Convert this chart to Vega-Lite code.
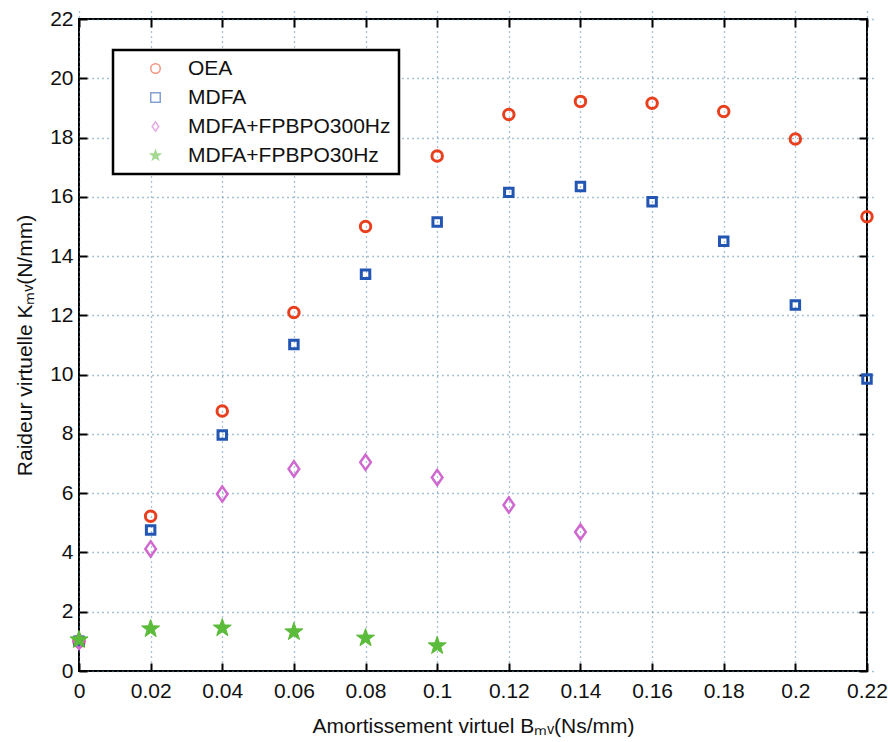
{
  "$schema": "https://vega.github.io/schema/vega-lite/v6.json",
  "autosize": {"type": "none"},
  "width": 788,
  "height": 652,
  "padding": {"left": 79, "top": 19, "right": 21, "bottom": 71},
  "background": "white",
  "config": {
    "font": "Liberation Sans",
    "view": {"stroke": "black", "strokeWidth": 2},
    "axis": {
      "labelFont": "Liberation Sans",
      "titleFont": "Liberation Sans",
      "labelFontSize": 21,
      "titleFontSize": 21,
      "labelColor": "#111",
      "titleColor": "#111",
      "titleFontWeight": "normal",
      "labelFlush": false,
      "labelOverlap": false,
      "domain": false,
      "ticks": true,
      "tickColor": "black",
      "tickWidth": 2,
      "tickSize": 8,
      "offset": -8,
      "gridColor": "#4f86a8",
      "gridDash": [1, 4],
      "gridWidth": 1.3,
      "gridOpacity": 1
    },
    "legend": {
      "orient": "none",
      "legendX": 34,
      "legendY": 31,
      "fillColor": "white",
      "strokeColor": "black",
      "strokeWidth": 2.5,
      "padding": 8,
      "labelFont": "Liberation Sans",
      "labelFontSize": 21,
      "labelColor": "#111",
      "labelLimit": 0,
      "rowPadding": 7,
      "symbolOffset": 24,
      "labelOffset": 22,
      "symbolSize": 90,
      "symbolStrokeWidth": 1.5,
      "symbolOpacity": 0.55,
      "title": null
    }
  },
  "data": {
    "values": [
      {"x": 0, "y": 1.0, "s": "OEA"},
      {"x": 0.02, "y": 5.22, "s": "OEA"},
      {"x": 0.04, "y": 8.77, "s": "OEA"},
      {"x": 0.06, "y": 12.1, "s": "OEA"},
      {"x": 0.08, "y": 15.0, "s": "OEA"},
      {"x": 0.1, "y": 17.38, "s": "OEA"},
      {"x": 0.12, "y": 18.78, "s": "OEA"},
      {"x": 0.14, "y": 19.22, "s": "OEA"},
      {"x": 0.16, "y": 19.16, "s": "OEA"},
      {"x": 0.18, "y": 18.88, "s": "OEA"},
      {"x": 0.2, "y": 17.95, "s": "OEA"},
      {"x": 0.22, "y": 15.33, "s": "OEA"},
      {"x": 0, "y": 1.0, "s": "MDFA"},
      {"x": 0.02, "y": 4.76, "s": "MDFA"},
      {"x": 0.04, "y": 7.96, "s": "MDFA"},
      {"x": 0.06, "y": 11.02, "s": "MDFA"},
      {"x": 0.08, "y": 13.39, "s": "MDFA"},
      {"x": 0.1, "y": 15.15, "s": "MDFA"},
      {"x": 0.12, "y": 16.15, "s": "MDFA"},
      {"x": 0.14, "y": 16.35, "s": "MDFA"},
      {"x": 0.16, "y": 15.83, "s": "MDFA"},
      {"x": 0.18, "y": 14.5, "s": "MDFA"},
      {"x": 0.2, "y": 12.35, "s": "MDFA"},
      {"x": 0.22, "y": 9.85, "s": "MDFA"},
      {"x": 0, "y": 1.0, "s": "MDFA+FPBPO300Hz"},
      {"x": 0.02, "y": 4.12, "s": "MDFA+FPBPO300Hz"},
      {"x": 0.04, "y": 5.97, "s": "MDFA+FPBPO300Hz"},
      {"x": 0.06, "y": 6.82, "s": "MDFA+FPBPO300Hz"},
      {"x": 0.08, "y": 7.04, "s": "MDFA+FPBPO300Hz"},
      {"x": 0.1, "y": 6.53, "s": "MDFA+FPBPO300Hz"},
      {"x": 0.12, "y": 5.6, "s": "MDFA+FPBPO300Hz"},
      {"x": 0.14, "y": 4.69, "s": "MDFA+FPBPO300Hz"},
      {"x": 0, "y": 1.05, "s": "MDFA+FPBPO30Hz"},
      {"x": 0.02, "y": 1.42, "s": "MDFA+FPBPO30Hz"},
      {"x": 0.04, "y": 1.45, "s": "MDFA+FPBPO30Hz"},
      {"x": 0.06, "y": 1.32, "s": "MDFA+FPBPO30Hz"},
      {"x": 0.08, "y": 1.11, "s": "MDFA+FPBPO30Hz"},
      {"x": 0.1, "y": 0.85, "s": "MDFA+FPBPO30Hz"}
    ]
  },
  "encoding": {
    "x": {
      "field": "x", "type": "quantitative",
      "scale": {"domain": [0, 0.22], "nice": false, "zero": false}
    },
    "y": {
      "field": "y", "type": "quantitative",
      "scale": {"domain": [0, 22], "nice": false}
    },
    "shape": {
      "field": "s", "type": "nominal",
      "scale": {
        "domain": ["OEA", "MDFA", "MDFA+FPBPO300Hz", "MDFA+FPBPO30Hz"],
        "range": ["circle", "square", "M0,-1L0.7,0L0,1L-0.7,0Z", "M0,-1L0.235,-0.324L0.951,-0.309L0.38,0.124L0.588,0.809L0,0.4L-0.588,0.809L-0.38,0.124L-0.951,-0.309L-0.235,-0.324Z"]
      }
    },
    "stroke": {
      "field": "s", "type": "nominal",
      "scale": {
        "domain": ["OEA", "MDFA", "MDFA+FPBPO300Hz", "MDFA+FPBPO30Hz"],
        "range": ["#e8401f", "#2355b3", "#cf68cf", "#5bbb3a"]
      }
    },
    "fill": {
      "field": "s", "type": "nominal",
      "scale": {
        "domain": ["OEA", "MDFA", "MDFA+FPBPO300Hz", "MDFA+FPBPO30Hz"],
        "range": ["rgba(255,255,255,0)", "rgba(255,255,255,0)", "rgba(255,255,255,0)", "#5bbb3a"]
      }
    }
  },
  "layer": [
    {
      "mark": {"type": "point", "opacity": 0, "clip": false},
      "encoding": {
        "x": {"field": "x", "type": "quantitative", "axis": {"orient": "top", "labels": false, "grid": false, "title": null, "values": [0, 0.02, 0.04, 0.06, 0.08, 0.1, 0.12, 0.14, 0.16, 0.18, 0.2, 0.22]}},
        "y": {"field": "y", "type": "quantitative", "axis": {"orient": "right", "labels": false, "grid": false, "title": null, "values": [0, 2, 4, 6, 8, 10, 12, 14, 16, 18, 20, 22]}}
      }
    },
    {
      "transform": [{"filter": "datum.s === 'OEA'"}],
      "mark": {"type": "point", "size": 110, "strokeWidth": 3, "opacity": 1, "clip": false},
      "encoding": {
        "x": {"field": "x", "type": "quantitative", "axis": {"orient": "bottom", "grid": true, "title": "Amortissement virtuel Bₘᵥ(Ns/mm)", "values": [0, 0.02, 0.04, 0.06, 0.08, 0.1, 0.12, 0.14, 0.16, 0.18, 0.2, 0.22], "format": "~g", "labelPadding": 9, "titlePadding": 14}},
        "y": {"field": "y", "type": "quantitative", "axis": {"orient": "left", "grid": true, "title": "Raideur virtuelle Kₘᵥ(N/mm)", "values": [0, 2, 4, 6, 8, 10, 12, 14, 16, 18, 20, 22], "labelPadding": 6, "titlePadding": 14}}
      }
    },
    {
      "transform": [{"filter": "datum.s === 'MDFA'"}],
      "mark": {"type": "point", "size": 72, "strokeWidth": 3, "opacity": 1, "clip": false},
      "encoding": {
        "x": {"field": "x", "type": "quantitative", "axis": null},
        "y": {"field": "y", "type": "quantitative", "axis": null}
      }
    },
    {
      "transform": [{"filter": "datum.s === 'MDFA+FPBPO300Hz'"}],
      "mark": {"type": "point", "size": 230, "strokeWidth": 2.5, "opacity": 1, "clip": false},
      "encoding": {
        "x": {"field": "x", "type": "quantitative", "axis": null},
        "y": {"field": "y", "type": "quantitative", "axis": null}
      }
    },
    {
      "transform": [{"filter": "datum.s === 'MDFA+FPBPO30Hz'"}],
      "mark": {"type": "point", "size": 360, "strokeWidth": 1, "opacity": 1, "clip": false},
      "encoding": {
        "x": {"field": "x", "type": "quantitative", "axis": null},
        "y": {"field": "y", "type": "quantitative", "axis": null}
      }
    }
  ],
  "resolve": {"axis": {"x": "independent", "y": "independent"}}
}
